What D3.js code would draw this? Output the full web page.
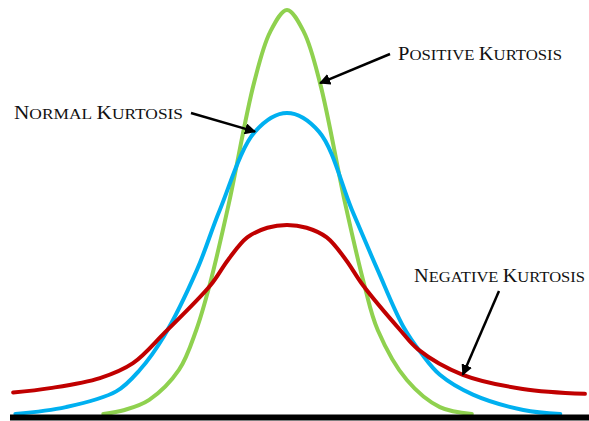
<!DOCTYPE html>
<html>
<head>
<meta charset="utf-8">
<script src="https://cdn.jsdelivr.net/npm/d3@7"></script>
<style>
  html, body { margin: 0; padding: 0; background: #fff; }
  svg { display: block; }
</style>
</head>
<body>
<svg id="chart" width="589" height="421"></svg>
<script>
// Positive kurtosis (leptokurtic) curve
const positiveX = [-3.28, -2.9, -2.46, -1.93, -1.62, -1.38, -1.04, -0.59, -0.3, 0, 0.3, 0.59, 1.04, 1.38, 1.62, 2.14, 2.73, 3.30];
const positiveY = [0, 0.01, 0.035, 0.109, 0.208, 0.32, 0.52, 0.819, 0.946, 1.0, 0.946, 0.819, 0.52, 0.32, 0.208, 0.084, 0.017, 0];

// Normal (mesokurtic) curve
const normalX = [-4.85, -3.95, -3.05, -2.63, -2.2, -1.61, -1.2, -0.57, 0, 0.57, 1.16, 1.62, 2.07, 2.4, 2.73, 3.32, 4.22, 4.88];
const normalY = [0, 0.017, 0.056, 0.109, 0.192, 0.356, 0.505, 0.699, 0.745, 0.699, 0.505, 0.356, 0.218, 0.15, 0.097, 0.048, 0.01, 0];

// Negative kurtosis (platykurtic) curve
const negativeX = [-4.89, -4.23, -3.34, -2.75, -2.18, -1.37, -1.05, -0.71, -0.35, 0, 0.35, 0.71, 1.05, 1.36, 2.02, 2.34, 3.14, 4.21, 5.32];
const negativeY = [0.053, 0.064, 0.089, 0.126, 0.202, 0.318, 0.382, 0.437, 0.461, 0.468, 0.461, 0.437, 0.382, 0.318, 0.208, 0.16, 0.097, 0.062, 0.050];

const seriesNames = ["Positive Kurtosis", "Normal Kurtosis", "Negative Kurtosis"];
const seriesColors = ["#8fd14f", "#00b0f0", "#c00000"];

const svg = d3.select("#chart");

const x = d3.scaleLinear().domain([-5, 5]).range([7, 567]);
const y = d3.scaleLinear().domain([0, 1]).range([414, 10]);

const line = d3.line()
  .x(d => x(d[0]))
  .y(d => y(d[1]))
  .curve(d3.curveCatmullRom.alpha(0.5));

const series = [
  { name: seriesNames[0], color: seriesColors[0], pts: d3.zip(positiveX, positiveY) },
  { name: seriesNames[1], color: seriesColors[1], pts: d3.zip(normalX, normalY) },
  { name: seriesNames[2], color: seriesColors[2], pts: d3.zip(negativeX, negativeY) }
];

svg.selectAll("path.curve")
  .data(series)
  .join("path")
  .attr("class", "curve")
  .attr("fill", "none")
  .attr("stroke", d => d.color)
  .attr("stroke-width", 4)
  .attr("stroke-linecap", "round")
  .attr("d", d => line(d.pts));

// baseline axis
svg.append("line")
  .attr("x1", 10).attr("x2", 589)
  .attr("y1", y(0) + 3.5).attr("y2", y(0) + 3.5)
  .attr("stroke", "#000")
  .attr("stroke-width", 6);

// arrow marker
svg.append("defs").append("marker")
  .attr("id", "head")
  .attr("viewBox", "0 0 10 10")
  .attr("refX", 9).attr("refY", 5)
  .attr("markerWidth", 4.5).attr("markerHeight", 4.5)
  .attr("markerUnits", "strokeWidth")
  .attr("orient", "auto")
  .append("path")
  .attr("d", "M0,0 L10,5 L0,10 Z")
  .attr("fill", "#000");

// callouts: label position and the point on its curve that the arrow touches
const labels = [
  { text: seriesNames[0], lx: 398, ly: 60, width: 164, from: [390, 54], curve: 0, at: 0.59 },
  { text: seriesNames[1], lx: 14, ly: 119, width: 169, from: [191, 113], curve: 1, at: -0.57 },
  { text: seriesNames[2], lx: 414, ly: 282, width: 171, from: [499, 291], curve: 2, at: 3.14 }
];

function valueAt(s, xv) {
  const p = s.pts.find(q => q[0] === xv);
  return p[1];
}

labels.forEach(l => {
  const s = series[l.curve];
  const tx = x(l.at), ty = y(valueAt(s, l.at));
  svg.append("line")
    .attr("x1", l.from[0]).attr("y1", l.from[1])
    .attr("x2", tx).attr("y2", ty)
    .attr("stroke", "#000")
    .attr("stroke-width", 2.5)
    .attr("marker-end", "url(#head)");

  const t = svg.append("text")
    .attr("x", l.lx).attr("y", l.ly)
    .attr("font-family", "'Liberation Serif', 'DejaVu Serif', serif")
    .attr("fill", "#111")
    .attr("textLength", l.width)
    .attr("lengthAdjust", "spacingAndGlyphs");
  l.text.split(" ").forEach((w, wi) => {
    if (wi > 0) t.append("tspan").attr("font-size", 16).text(" ");
    t.append("tspan").attr("font-size", 19).text(w[0].toUpperCase());
    t.append("tspan").attr("font-size", 15.5).text(w.slice(1).toUpperCase());
  });
});
</script>
</body>
</html>
